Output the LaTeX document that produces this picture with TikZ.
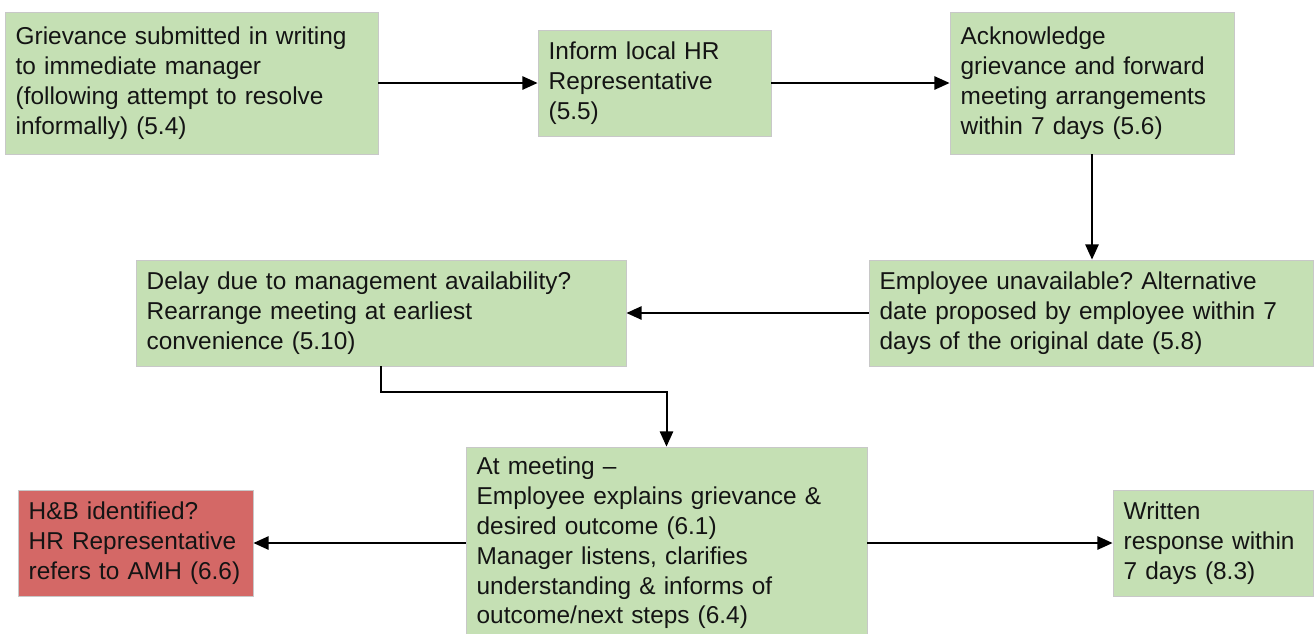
\documentclass[tikz,border=0pt]{standalone}
\usepackage{fontspec}
\setmainfont{Liberation Sans}
\usepackage{xcolor}
\usepackage{tikz}
\usetikzlibrary{calc,arrows.meta,positioning}
\definecolor{stepGreen}{RGB}{197,224,180}
\definecolor{stepRed}{RGB}{212,104,102}
\definecolor{stepEdge}{RGB}{200,200,200}
\definecolor{stepText}{RGB}{20,20,20}
\frenchspacing

\begin{document}
\begin{tikzpicture}[x=0.75pt,y=-0.75pt,
  stepbox/.style={draw=stepEdge, line width=0.6pt, fill=stepGreen, text=stepText,
    align=left, inner xsep=8pt, inner ysep=0pt,
    font=\fontsize{18.3}{22.4}\selectfont},
  alertbox/.style={stepbox, fill=stepRed},
  flow/.style={black, line width=1.5pt, -{Triangle[length=11.5pt,width=10pt]}}]
\useasboundingbox (0,0) rectangle (1314,633);

\node[stepbox, minimum width=279.75pt, text width=263.75pt, minimum height=106.5pt]
  (submit) at (191.5,83) {Grievance submitted in writing\\to immediate manager\\(following attempt to resolve\\informally) (5.4)};
\node[stepbox, minimum width=174.75pt, text width=158.75pt, minimum height=79.5pt]
  (inform) at (654.5,83) {Inform local HR\\Representative\\(5.5)};
\node[stepbox, minimum width=213pt, text width=197pt, minimum height=106.5pt]
  (acknowledge) at (1092,83) {Acknowledge\\grievance and forward\\meeting arrangements\\within 7 days (5.6)};
\node[stepbox, minimum width=333pt, text width=317pt, minimum height=79.5pt]
  (unavailable) at (1091,313) {Employee unavailable? Alternative\\date proposed by employee within 7\\days of the original date (5.8)};
\node[stepbox, minimum width=367.5pt, text width=351.5pt, minimum height=79.5pt]
  (delay) at (381,313) {Delay due to management availability?\\Rearrange meeting at earliest\\convenience (5.10)};
\node[stepbox, minimum width=300.75pt, text width=284.75pt, minimum height=144pt]
  (meeting) at (666.5,543) {At meeting --\\Employee explains grievance \&\\desired outcome (6.1)\\Manager listens, clarifies\\understanding \& informs of\\outcome/next steps (6.4)};
\node[alertbox, minimum width=176.25pt, text width=166pt, minimum height=79.5pt, inner xsep=5.1pt]
  (hb) at (135.5,543) {\hspace*{2.9pt}H\&B identified?\\\hspace*{2.9pt}HR Representative\\\hspace*{2.9pt}refers to AMH (6.6)};
\node[stepbox, minimum width=150pt, text width=134pt, minimum height=79.5pt]
  (response) at (1213,543) {Written\\response within\\7 days (8.3)};

\draw[flow] (submit) -- (inform);
\draw[flow] (inform) -- (acknowledge);
\draw[flow] (acknowledge.south) -- (acknowledge.south |- unavailable.north);
\draw[flow] (unavailable) -- (delay);
\draw[flow] (delay.south) -- ++(0,26) -| (meeting.north);
\draw[flow] (meeting) -- (hb);
\draw[flow] (meeting) -- (response);
\end{tikzpicture}
\end{document}
